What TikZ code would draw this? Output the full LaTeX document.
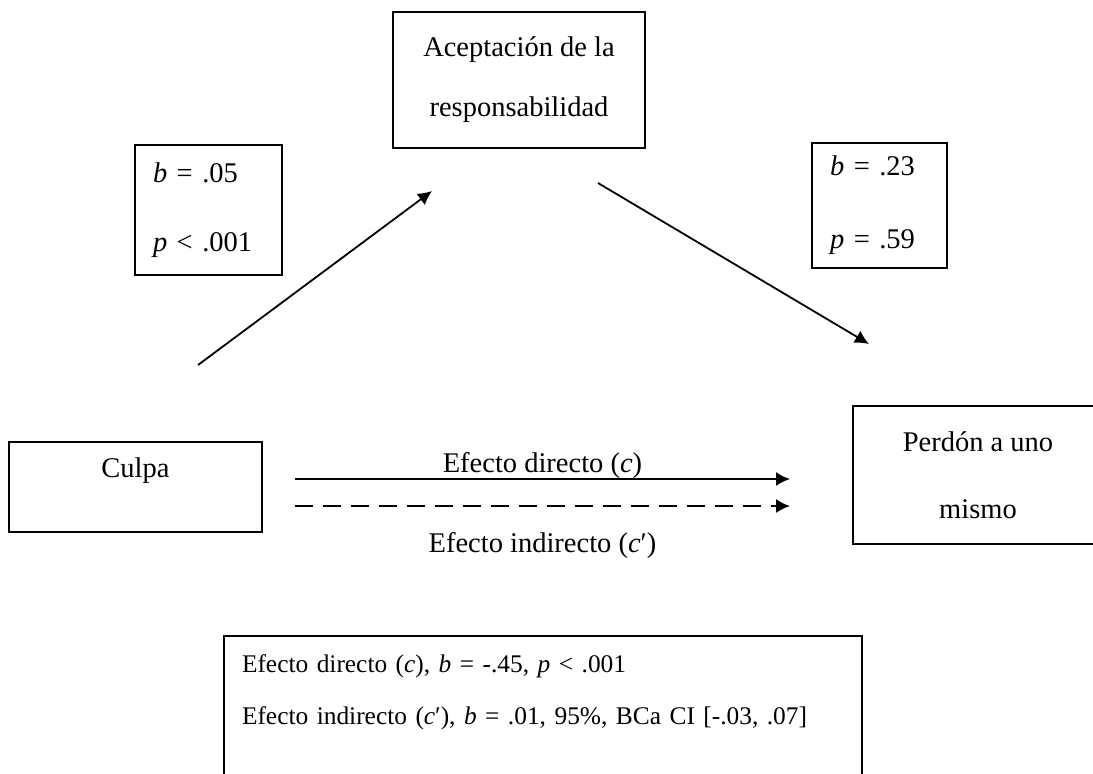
\documentclass[tikz,border=0pt]{standalone}
\usepackage{fontspec}
\setmainfont{Liberation Serif}
\usepackage{tikz}
\usetikzlibrary{arrows.meta,positioning}

\begin{document}
\begin{tikzpicture}[x=0.5pt, y=-0.5pt, >={Latex[length=7pt,width=7pt]},
  every node/.style={font=\fontsize{14.25pt}{30pt}\selectfont},
  box/.style={draw, line width=1.2pt, rectangle, inner sep=0pt},
  statbox/.style={box, align=left, inner xsep=9pt},
  link/.style={->, line width=0.9pt}]
\clip (0,0) rectangle (1093,773);
% Mediator
\node[box, align=center, minimum width=126pt, minimum height=68pt] (acep) at (519,80) {Aceptación de la\\responsabilidad};
% Path a
\node[statbox, text width=55.5pt, minimum height=65pt] (statA) at (208.5,210) {\textit{b} = .05\\[4.5pt]\textit{p} < .001};
% Path b
\node[statbox, text width=49.5pt, minimum height=62.5pt] (statB) at (879.5,205.5) {\textit{b} = .23\\[6.5pt]\textit{p} = .59};
% Predictor
\node[box, minimum width=126.5pt, minimum height=45pt, text depth=19pt] (culpa) at (135.5,487) {Culpa};
% Outcome
\node[box, align=center, minimum width=125pt, minimum height=69pt] (perdon) at (978,475) {Perdón a uno\\[3.5pt]mismo};
% Summary
\node[box, anchor=north, align=left, text width=301pt, inner xsep=9pt, inner ysep=9pt, text depth=60pt, font=\fontsize{12.7pt}{26pt}\selectfont] (summary) at (543,635) {Efecto directo (\textit{c}), \textit{b} = -.45, \textit{p} < .001\\Efecto indirecto (\textit{c}′), \textit{b} = .01, 95\%, BCa CI [-.03, .07]};
% Arrow ends
\coordinate (aStart) at (198,365);
\coordinate (aEnd) at (432,191);
\coordinate (bStart) at (598,183);
\coordinate (bEnd) at (869,344);
\coordinate (cStart) at (295,479);
\coordinate (cEnd) at (790,479);
\coordinate (dStart) at (295,506);
\coordinate (dEnd) at (790,506);
% Arrows
\draw[link] (aStart) -- (aEnd);
\draw[link] (bStart) -- (bEnd);
\draw[link] (cStart) -- node[above=0pt, inner sep=0pt] (dirLabel) {Efecto directo (\textit{c})} (cEnd);
\draw[link, dash pattern=on 9pt off 5pt] (dStart) -- node[below=13pt, inner sep=0pt] (indLabel) {Efecto indirecto (\textit{c}′)} (dEnd);
\end{tikzpicture}
\end{document}
